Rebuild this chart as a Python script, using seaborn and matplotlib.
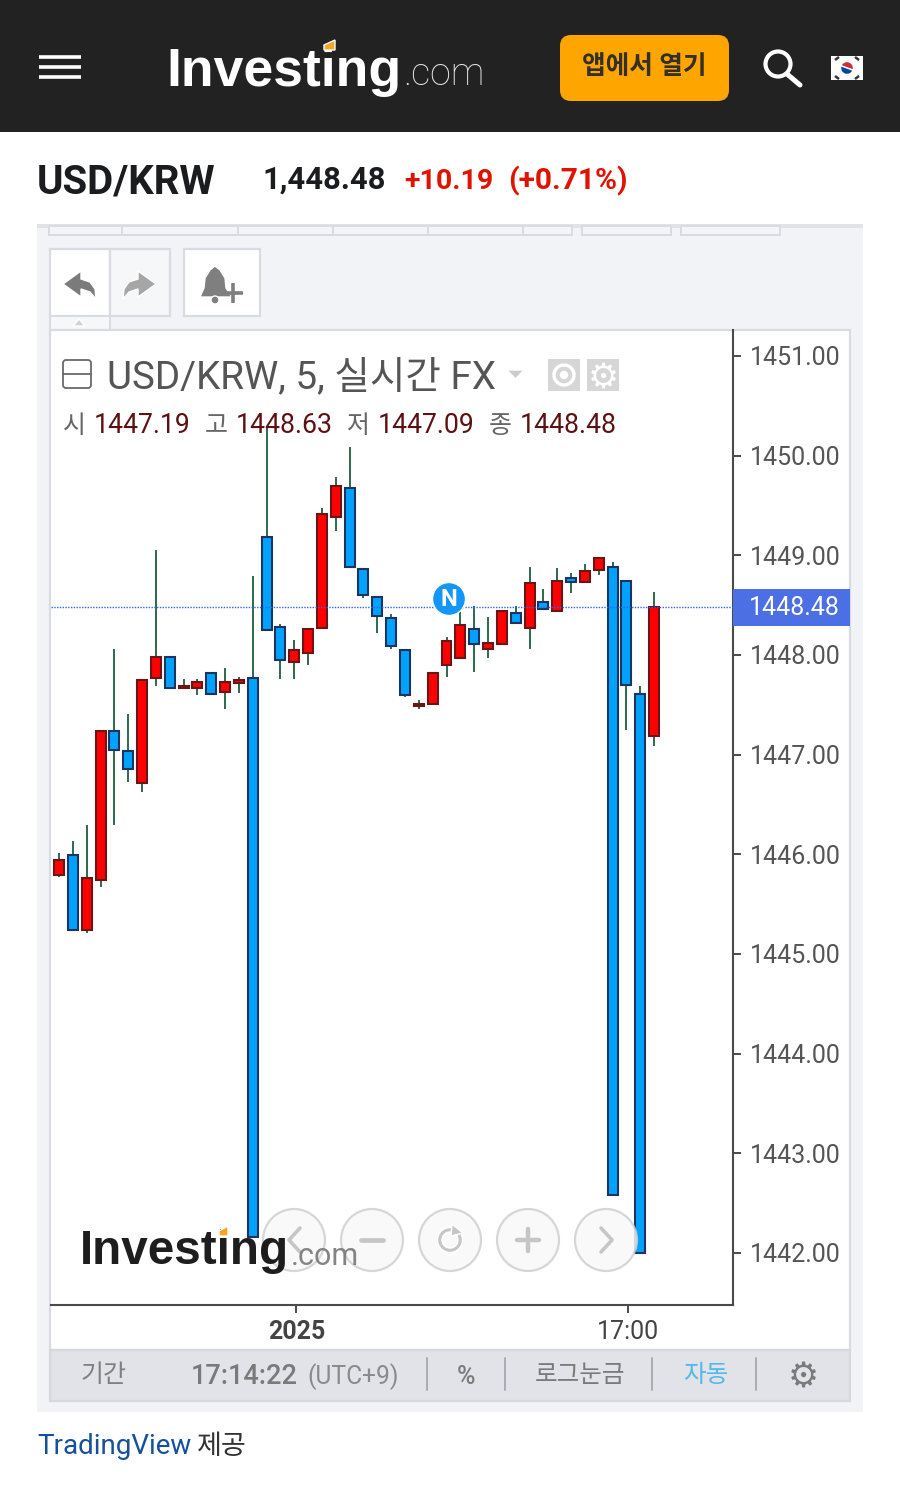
import numpy as np
import pandas as pd
import matplotlib
matplotlib.use('Agg')
import matplotlib.pyplot as plt
import seaborn as sns
from matplotlib.patches import Rectangle, Circle, FancyBboxPatch, Polygon, Wedge

# candles, oldest first
opens = [1445.79, 1445.99, 1445.24, 1445.74, 1447.24, 1447.04, 1446.72, 1447.77, 1447.98, 1447.67, 1447.67,
         1447.82, 1447.63, 1447.72, 1447.77, 1449.18, 1448.28, 1447.93, 1448.02, 1448.27, 1449.38, 1449.67,
         1448.86, 1448.58, 1448.37, 1448.05, 1447.49, 1447.51, 1447.90, 1447.97, 1448.26, 1448.06, 1448.11,
         1448.42, 1448.27, 1448.53, 1448.44, 1448.77, 1448.73, 1448.85, 1448.88, 1448.74, 1447.61, 1447.19]
closes = [1445.94, 1445.24, 1445.76, 1447.24, 1447.05, 1446.86, 1447.75, 1447.98, 1447.67, 1447.69, 1447.73,
          1447.61, 1447.73, 1447.75, 1442.16, 1448.25, 1447.95, 1448.05, 1448.26, 1449.41, 1449.69, 1448.88,
          1448.60, 1448.39, 1448.09, 1447.60, 1447.51, 1447.82, 1448.14, 1448.30, 1448.11, 1448.12, 1448.44,
          1448.32, 1448.72, 1448.46, 1448.74, 1448.73, 1448.84, 1448.97, 1442.58, 1447.70, 1442.00, 1448.48]
highs = [1446.01, 1446.13, 1446.29, 1447.24, 1448.06, 1447.41, 1447.75, 1449.05, 1447.98, 1447.76, 1447.76,
         1447.82, 1447.87, 1447.78, 1448.79, 1450.29, 1448.31, 1448.15, 1448.26, 1449.47, 1449.79, 1450.09,
         1448.86, 1448.58, 1448.41, 1448.05, 1447.55, 1447.82, 1448.18, 1448.48, 1448.49, 1448.38, 1448.44,
         1448.49, 1448.88, 1448.66, 1448.87, 1448.82, 1448.91, 1448.97, 1448.93, 1448.74, 1447.69, 1448.63]
lows = [1445.77, 1445.24, 1445.21, 1445.67, 1446.29, 1446.73, 1446.62, 1447.69, 1447.67, 1447.67, 1447.60,
        1447.61, 1447.46, 1447.62, 1442.16, 1448.25, 1447.76, 1447.76, 1447.90, 1448.27, 1449.24, 1448.88,
        1448.57, 1448.22, 1448.06, 1447.58, 1447.46, 1447.51, 1447.78, 1447.97, 1447.83, 1447.97, 1448.11,
        1448.32, 1448.06, 1448.46, 1448.44, 1448.62, 1448.73, 1448.80, 1442.58, 1447.25, 1442.00, 1447.09]
last_price = 1448.48
price_ticks = [1442, 1443, 1444, 1445, 1446, 1447, 1448, 1449, 1450, 1451]
time_ticks = [17.15, 41.1]
time_labels = ['2025', '17:00']

CJK = ['Roboto', 'Noto Sans CJK KR', 'DejaVu Sans']
LOGO = 'Liberation Sans'
UP = '#ff0000'
UP_EDGE = '#6b1616'
DOWN = '#00a2ff'
DOWN_EDGE = '#1c3560'
WICK = '#1b5e3f'
BORDER = '#d8dbe0'

sns.set_theme(style='white')
plt.rcParams['font.family'] = CJK

fig = plt.figure(figsize=(9, 15.04), dpi=100, facecolor='white')


def px_axes(z):
    a = fig.add_axes([0, 0, 1, 1], zorder=z)
    a.set_xlim(0, 900)
    a.set_ylim(1504, 0)
    a.axis('off')
    return a


def rect(a, x0, y0, x1, y1, fc, ec='none', lw=0):
    a.add_patch(Rectangle((x0, y0), x1 - x0, y1 - y0, facecolor=fc, edgecolor=ec, linewidth=lw))


def txt(a, x, y, s, size, color, ha='left', va='baseline', weight='normal', **kw):
    return a.text(x, y, s, fontsize=size, color=color, ha=ha, va=va, fontweight=weight, **kw)


bg = px_axes(0)
over = px_axes(2)

#############################
# header
rect(bg, 0, 0, 900, 132, '#222222')
for y in [57, 67, 77]:
    bg.plot([39, 81], [y, y], color='white', lw=2.6, solid_capstyle='butt')
txt(bg, 166, 86, 'Investing', 38.5, 'white', weight='bold', family=LOGO)
bg.add_patch(Polygon([[324, 45], [335, 40], [335, 50], [324, 50]], facecolor='#f5a623', zorder=5))
txt(bg, 403, 85, '.com', 27, '#e6e6e6', weight='light')
bg.add_patch(FancyBboxPatch((560, 35), 169, 66, boxstyle='round,pad=0,rounding_size=11', facecolor='#ffa500', edgecolor='none'))
txt(bg, 644, 67, '앱에서 열기', 18.5, '#33302a', ha='center', va='center', weight='bold')
bg.add_patch(Circle((778, 64), 12.5, facecolor='none', edgecolor='white', lw=3))
bg.plot([787, 800], [74, 85], color='white', lw=3.6, solid_capstyle='round')
# flag
rect(bg, 831, 56, 863, 80, 'white')
bg.add_patch(Wedge((847, 68), 6.5, 200, 20, facecolor='#cd2e3a'))
bg.add_patch(Wedge((847, 68), 6.5, 20, 200, facecolor='#0047a0'))
for p in [((835, 60), (839, 57)), ((855, 57), (859, 60)), ((835, 76), (839, 79)), ((855, 79), (859, 76))]:
    bg.plot([p[0][0], p[1][0]], [p[0][1], p[1][1]], color='#333333', lw=1.8, solid_capstyle='butt')

#############################
# quote row
txt(bg, 37, 194, 'USD/KRW', 29, '#1a1c20', weight='bold')
txt(bg, 262, 189, '1,448.48', 22.3, '#1a1c20', weight='bold')
txt(bg, 404, 189, '+10.19', 20.5, '#e01200', weight='bold')
txt(bg, 508, 189, '(+0.71%)', 21.5, '#e01200', weight='bold')

#############################
# panel + toolbars
rect(bg, 37, 226, 863, 1412, '#f1f3f7')
rect(bg, 37, 224, 863, 228, '#e2e3e6')
for a, b in [(49, 122), (122, 238), (238, 333), (333, 428), (428, 523), (523, 572), (582, 671), (681, 780)]:
    rect(bg, a, 226, b, 235, '#f3f4f7', BORDER, 1.4)
rect(bg, 50, 249, 110, 316, 'white', BORDER, 1.6)
rect(bg, 110, 249, 170, 316, '#f6f7f9', BORDER, 1.6)
rect(bg, 184, 249, 260, 316, 'white', BORDER, 1.6)
rect(bg, 50, 316, 110, 330, '#f6f7f9', BORDER, 1.4)
bg.add_patch(Polygon([[79, 319], [85, 326], [73, 326]], facecolor='#cfd2d6'))
back = [[63, 284], [81, 271], [81, 279], [90, 282], [95, 289], [96, 299], [90, 292], [81, 289], [81, 297]]
bg.add_patch(Polygon(back, facecolor='#7b7b7b'))
bg.add_patch(Polygon([[219 - x, y] for x, y in back], facecolor='#a6a6a6'))
bell = [[215, 266], [220, 270], [225, 278], [226, 288], [232, 297], [200, 297], [204, 288], [205, 278], [210, 270]]
bg.add_patch(Polygon(bell, facecolor='#7f7f7f'))
bg.add_patch(Circle((215, 300), 4, facecolor='#7f7f7f'))
bg.plot([233, 233], [283, 303], color='#7f7f7f', lw=2.6, solid_capstyle='butt')
bg.plot([223, 243], [293, 293], color='#7f7f7f', lw=2.6, solid_capstyle='butt')

# chart frame
rect(bg, 50, 330, 850, 1350, 'white', BORDER, 1.6)
rect(bg, 50, 1350, 850, 1401, '#e2e3e8', '#d6d8dc', 1.6)

#############################
# candles
ax = fig.add_axes([51 / 900, 1 - 1305 / 1504, 682 / 900, 975 / 1504], zorder=1)
ax.patch.set_alpha(0)

df = pd.DataFrame({'i': np.arange(len(opens)), 'open': opens, 'close': closes, 'high': highs, 'low': lows})
df['body'] = (df['close'] - df['open']).abs()
df['base'] = df[['open', 'close']].min(axis=1)

wicks = pd.concat([df[['i', 'high']].rename(columns={'high': 'price'}),
                   df[['i', 'low']].rename(columns={'low': 'price'})])
sns.lineplot(data=wicks, x='i', y='price', units='i', estimator=None, color=WICK, lw=1.3,
             legend=False, ax=ax, solid_capstyle='butt', zorder=2)

up = df[df['close'] >= df['open']]
down = df[df['close'] < df['open']]
sns.barplot(data=up, x='i', y='body', bottom=up['base'].values, native_scale=True, color=UP, saturation=1,
            width=0.72, errorbar=None, edgecolor=UP_EDGE, linewidth=1.5, ax=ax, zorder=3)
sns.barplot(data=down, x='i', y='body', bottom=down['base'].values, native_scale=True, color=DOWN, saturation=1,
            width=0.72, errorbar=None, edgecolor=DOWN_EDGE, linewidth=1.5, ax=ax, zorder=3)

ax.axhline(last_price, color='#2f62ff', lw=1, ls=(0, (1, 1)), zorder=4)
ax.set_xlim(-0.578, 48.7)
ax.set_ylim(1441.478, 1451.26)
ax.set_xlabel('')
ax.set_ylabel('')
ax.yaxis.tick_right()
ax.set_yticks(price_ticks)
ax.set_yticklabels(['%.2f' % p for p in price_ticks], fontsize=18, color='#555555')
ax.set_xticks(time_ticks)
ax.set_xticklabels(time_labels, fontsize=18, color='#444444')
ax.get_xticklabels()[0].set_fontweight('bold')
ax.tick_params(axis='x', length=6, width=1.4, color='#4a4a4a', pad=5, bottom=True)
ax.tick_params(axis='y', length=6, width=1.4, color='#4a4a4a', pad=6, right=True)
for s in ['top', 'left']:
    ax.spines[s].set_visible(False)
for s in ['right', 'bottom']:
    ax.spines[s].set_color('#4a4a4a')
    ax.spines[s].set_linewidth(1.5)

#############################
# stuff on top of the chart
rect(over, 733, 589, 850, 626, '#4c70e4')
txt(over, 794, 608, '1448.48', 18, 'white', ha='center', va='center')
over.add_patch(Circle((449, 599), 16.5, facecolor='#1396f5'))
txt(over, 449, 600, 'N', 17, 'white', ha='center', va='center', weight='bold')

over.add_patch(FancyBboxPatch((63, 360), 28, 28, boxstyle='round,pad=0,rounding_size=3', facecolor='none', edgecolor='#6a6a6a', lw=1.3))
over.plot([63, 91], [374, 374], color='#6a6a6a', lw=1.3)
txt(over, 107, 388, 'USD/KRW, 5, 실시간 FX', 27.8, '#555555')
over.add_patch(Polygon([[507, 370], [524, 370], [515.5, 379]], facecolor='#cccccc'))
rect(over, 548, 359, 580, 391, '#d6d6d6')
over.add_patch(Circle((564, 375), 10, facecolor='none', edgecolor='white', lw=2.4))
over.add_patch(Circle((564, 375), 3.5, facecolor='white'))
rect(over, 587, 359, 619, 391, '#d6d6d6')
txt(over, 603, 375, '⚙', 25, 'white', ha='center', va='center_baseline', family='DejaVu Sans')

for x, s in [(63, '시'), (205, '고'), (347, '저'), (489, '종')]:
    txt(over, x, 433, s, 18, '#666666')
for x, s in [(94, '1447.19'), (236, '1448.63'), (378, '1447.09'), (520, '1448.48')]:
    txt(over, x, 433, s, 19.2, '#5c1212')

# nav buttons
for x in [294, 372, 450, 528, 606]:
    over.add_patch(Circle((x, 1240), 31, facecolor='#f8f8f8', edgecolor='#d0d0d0', lw=1.6, alpha=0.85))
over.plot([300, 289, 300], [1228, 1240, 1252], color='#c6c6c6', lw=2.6)
over.plot([361, 383], [1240, 1240], color='#c6c6c6', lw=3.4)
over.add_patch(Wedge((450, 1240), 12.5, -35, 285, width=4.5, facecolor='#c6c6c6'))
over.add_patch(Polygon([[452, 1224], [463, 1233], [451, 1236]], facecolor='#c6c6c6'))
over.plot([517, 539], [1240, 1240], color='#c6c6c6', lw=3.2)
over.plot([528, 528], [1229, 1251], color='#c6c6c6', lw=3.2)
over.plot([601, 612, 601], [1228, 1240, 1252], color='#c6c6c6', lw=2.6)

# watermark
txt(over, 80, 1264, 'Investing', 34.3, '#0a0a0a', weight='bold', alpha=0.92, family=LOGO)
over.add_patch(Polygon([[219, 1231], [228, 1226], [228, 1236], [219, 1236]], facecolor='#f5a623', zorder=5))
txt(over, 291, 1265, '.com', 22, '#777777', alpha=0.9)

# bottom bar
txt(over, 81, 1382, '기간', 18, '#808080', weight='medium')
txt(over, 191, 1384, '17:14:22', 19.5, '#7a7a7a', weight='medium')
txt(over, 307, 1384, '(UTC+9)', 17.7, '#8a8a8a')
txt(over, 466, 1384, '%', 18, '#7a7a7a', ha='center', weight='medium')
txt(over, 535, 1382, '로그눈금', 17.7, '#7a7a7a', weight='medium')
txt(over, 683, 1382, '자동', 17.7, '#52b9e9', weight='medium')
for x in [427, 505, 652, 756]:
    over.plot([x, x], [1358, 1390], color='#a4a8ae', lw=1.3)
txt(over, 803, 1374, '⚙', 25, '#7a7a7a', ha='center', va='center_baseline', family='DejaVu Sans')

txt(over, 37, 1454, 'TradingView', 20, '#15519b')
txt(over, 197, 1454, '제공', 19.5, '#333333')

fig.savefig('out.png', dpi=100, facecolor='white')
